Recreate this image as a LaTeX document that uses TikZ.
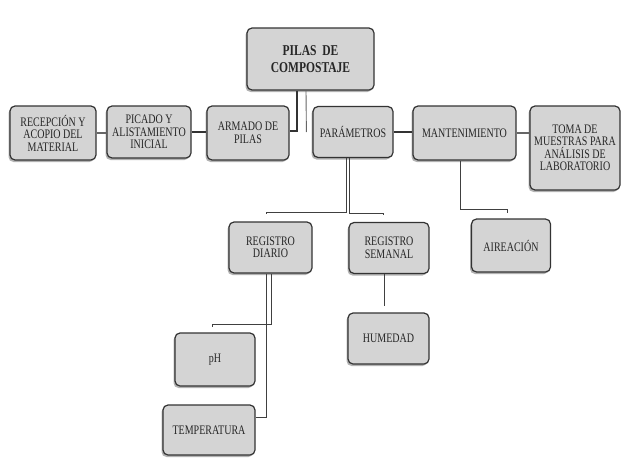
\documentclass[tikz,border=0pt]{standalone}
\usepackage{fontspec}
\setmainfont[FakeStretch=0.77]{Liberation Serif}
\usetikzlibrary{shadows,calc}
\begin{document}
\begin{tikzpicture}[x=1pt,y=-1pt,
  box/.style={draw=black!80, line width=1.2pt, rounded corners=5pt, fill=black!17,
    drop shadow={shadow xshift=-1.5pt, shadow yshift=-2pt, opacity=0.3, fill=black},
    align=center, inner sep=1pt, text=black!85,
    font=\fontsize{13}{12.5}\selectfont},
  sz/.style 2 args={minimum width=#1pt, minimum height=#2pt},
  conn/.style={draw=black!80, line width=1.2pt},
  thin conn/.style={draw=black!75, line width=0.9pt}]
\useasboundingbox (0,0) rectangle (626,463);
\node[box, sz={127}{62}, font=\bfseries\fontsize{15}{17}\selectfont] (pilas) at (310.5,59) {PILAS \ DE\\COMPOSTAJE};
\node[box, sz={86}{54}] (rec) at (53,133) {RECEPCIÓN Y\\ACOPIO DEL\\MATERIAL};
\node[box, sz={84}{52}] (pic) at (149,132) {PICADO Y\\ALISTAMIENTO\\INICIAL};
\node[box, sz={82}{54}] (arm) at (248,133) {ARMADO DE\\PILAS};
\node[box, sz={80}{51}] (par) at (353,132) {PARÁMETROS};
\node[box, sz={103}{54}] (man) at (464.5,133) {MANTENIMIENTO};
\node[box, sz={90}{84}] (toma) at (575,148) {TOMA DE\\MUESTRAS PARA\\ANÁLISIS DE\\LABORATORIO};
\node[box, sz={83}{51}] (rd) at (270.5,247.5) {REGISTRO\\DIARIO};
\node[box, sz={80}{51}] (rs) at (389,248) {REGISTRO\\SEMANAL};
\node[box, sz={79}{53}] (air) at (511,245.5) {AIREACIÓN};
\node[box, sz={80}{53}] (ph) at (215,359.5) {pH};
\node[box, sz={81}{51}] (hum) at (388.5,338.5) {HUMEDAD};
\node[box, sz={92}{50}] (temp) at (209,430) {TEMPERATURA};
\coordinate (pbus) at (0,212);
\coordinate (mbus) at (0,209);
\coordinate (phbus) at (0,324);
% row connectors
\draw[conn, draw=black!60] (rec.east) -- (rec.east -| pic.west);
\draw[conn] (pic.east) -- (pic.east -| arm.west);
\draw[conn, line width=2.2pt] (par.east) -- (par.east -| man.west);
\draw[conn, draw=black!60] (man.east) -- (man.east -| toma.west);
% from pilas
\draw[conn] ([xshift=-13.5pt]pilas.south) |- ([yshift=2pt]arm.east);
\coordinate (ptick) at ($(par.west)+(-6,0)$);
\draw[thin conn, draw=black!60] ([xshift=-4.5pt]pilas.south) -- (ptick);
% parametros branches
\draw[thin conn] ([xshift=-6.5pt]par.south) -- ([xshift=-6.5pt]par.south |- pbus) -| ([xshift=-4.5pt,yshift=7pt]rd.north);
\draw[thin conn] ([xshift=-3.5pt]par.south) -- ([xshift=-3.5pt,yshift=-1pt]par.south |- pbus) -| ([xshift=-6pt,yshift=7pt]rs.north);
% mantenimiento
\draw[thin conn] ([xshift=-4.5pt]man.south) -- ([xshift=-4.5pt]man.south |- mbus) -| ([xshift=-4pt,yshift=5pt]air.north);
% registro diario
\draw[thin conn] ([xshift=0.5pt]rd.south) -- ([xshift=0.5pt]rd.south |- phbus) -| ([xshift=-3pt,yshift=5pt]ph.north);
\draw[thin conn] ([xshift=-4.5pt]rd.south) |- ([yshift=13pt]temp.east);
% registro semanal
\draw[thin conn] ([xshift=-5pt]rs.south) -- ([xshift=-5pt,yshift=6pt]hum.north -| rs.south);
\end{tikzpicture}
\end{document}
